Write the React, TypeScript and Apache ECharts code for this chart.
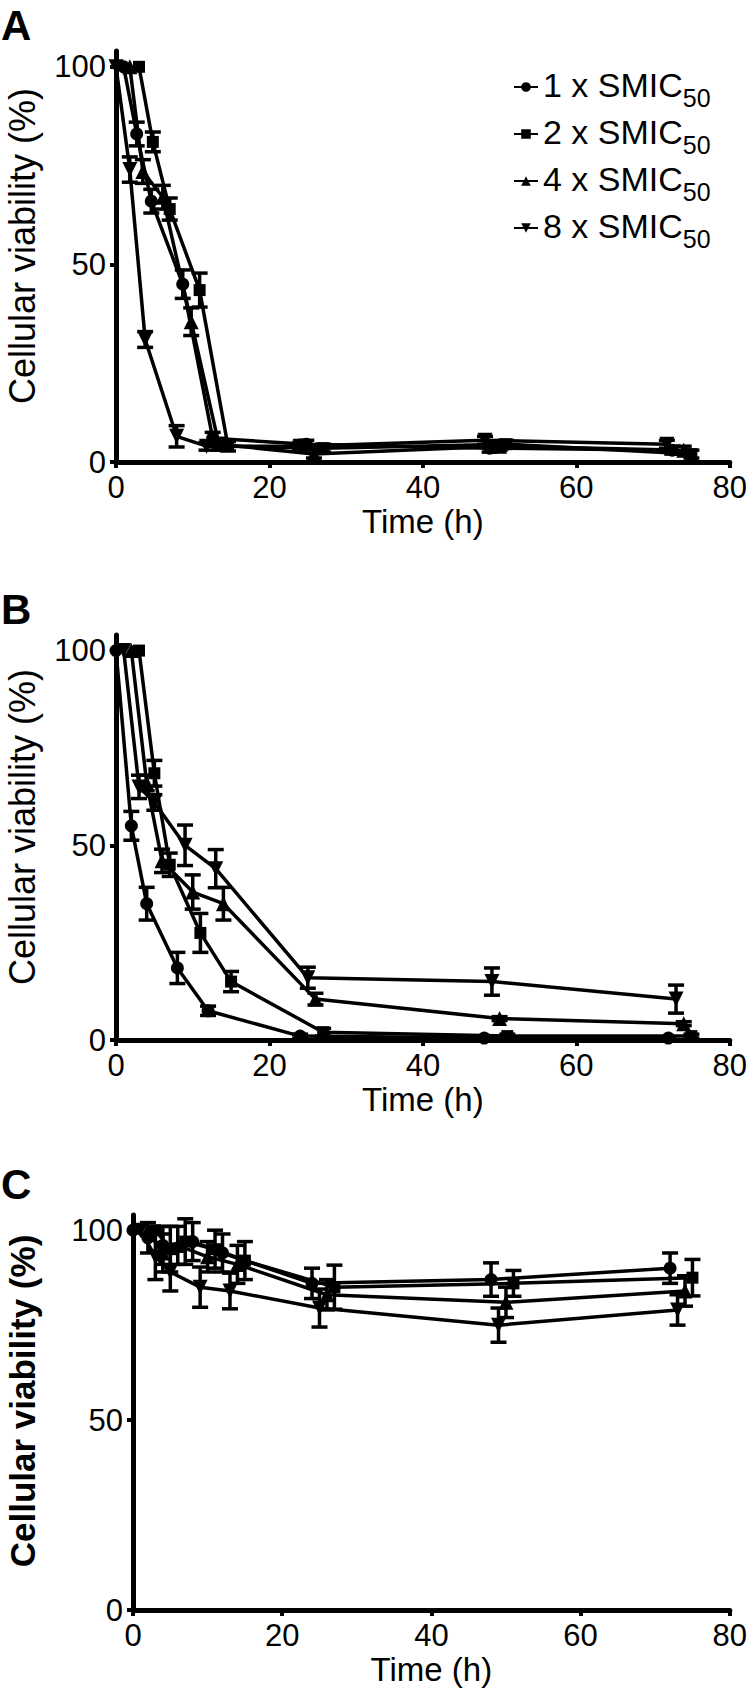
import React, { useEffect, useRef } from "react";
import * as echarts from "echarts";

const FONT = "'Liberation Sans', Arial, Helvetica, sans-serif";

// Series (legend) names and markers
const seriesNames = ["1 x SMIC50", "2 x SMIC50", "4 x SMIC50", "8 x SMIC50"];
const legendMain = ["1 x SMIC", "2 x SMIC", "4 x SMIC", "8 x SMIC"];
const legendSub = "50";
const symbols = ["circle", "rect", "triangle", "path://M0,0L20,0L10,17Z"];
const symbolSizes = [13, 12, 15, 15];

// Axis ticks
const xTicks = [0, 20, 40, 60, 80];
const yTicks = [0, 50, 100];
const xTitle = "Time (h)";
const yTitle = "Cellular viability (%)";
const panelLetters = ["A", "B", "C"];

// ---------- Panel A ----------
const tA1 = [1, 2.7, 4.6, 8.7, 12.6, 24.8, 48.7, 72.5];
const vA1 = [100, 83, 66, 45, 6, 4.5, 3.5, 3];
const eA1 = [0, 3, 3, 3.6, 1.5, 1, 1, 1];
const tA2 = [3, 4.8, 7, 10.9, 14.6, 27, 50.8, 75];
const vA2 = [100, 81, 64, 43.5, 4, 3.5, 4.5, 2];
const eA2 = [0, 2.5, 2.8, 4.3, 1.2, 1, 1, 1];
const tA4 = [1.8, 3.5, 6.1, 9.8, 13.4, 25.8, 50, 74];
const vA4 = [100, 73.5, 67, 35.5, 4.5, 2, 4, 3];
const eA4 = [0, 3, 3, 3.5, 1.5, 1, 1, 1];
const tA8 = [0, 1.8, 3.8, 7.9, 11.8, 24, 48.1, 71.8];
const vA8 = [100, 74, 31, 6.5, 4, 4, 5.5, 4.5];
const eA8 = [0, 3.2, 2, 2.7, 1, 1, 1, 1];

// ---------- Panel B ----------
const tB1 = [0, 2, 4, 8, 12, 24, 48, 72];
const vB1 = [100, 55, 35, 18.5, 7.5, 1, 0.5, 0.5];
const eB1 = [0, 3.7, 4.2, 4, 1.2, 0.5, 0.3, 0.3];
const tB2 = [3, 5, 7, 11, 15, 27, 51, 75];
const vB2 = [100, 68.5, 45, 27.5, 15, 2, 1, 1];
const eB2 = [0, 3.3, 3, 5, 2.6, 1, 0.5, 0.5];
const tB4 = [2, 4, 6, 10, 14, 26, 50, 74];
const vB4 = [100, 66, 46, 38, 35, 10.5, 5.5, 4.2];
const eB4 = [0, 2, 3, 4.4, 4.2, 1.5, 0.5, 0.5];
const tB8 = [1, 3, 5, 9, 13, 25, 49, 73];
const vB8 = [100, 65, 61, 50, 44, 16, 15, 10.5];
const eB8 = [0, 3, 2, 5.2, 4.9, 2.7, 3.5, 3.6];

// ---------- Panel C ----------
const tC1 = [0, 2, 4, 8, 12, 24, 48, 72];
const vC1 = [100, 98, 96, 97, 94, 86, 87, 90];
const eC1 = [0, 4, 5, 5, 5, 4, 4.4, 4];
const tC2 = [3, 5, 7, 11, 15, 27, 51, 75];
const vC2 = [100, 95, 97, 95, 92, 85, 86, 87.5];
const eC2 = [0, 6, 6, 5, 5, 5.8, 3.4, 4.8];
const tC4 = [2, 4, 6, 10, 14, 26, 50, 74];
const vC4 = [100, 94, 96, 93, 91, 83, 81, 84];
const eC4 = [0, 5, 5, 4, 5, 4, 4, 4];
const tC8 = [1, 3, 5, 9, 13, 25, 49, 73];
const vC8 = [100, 93, 89, 85, 84, 79.5, 75, 79];
const eC8 = [0, 6, 5, 5.3, 4.7, 5, 4.5, 4];

const panelTimes = [
  [tA1, tA2, tA4, tA8],
  [tB1, tB2, tB4, tB8],
  [tC1, tC2, tC4, tC8],
];
const panelValues = [
  [vA1, vA2, vA4, vA8],
  [vB1, vB2, vB4, vB8],
  [vC1, vC2, vC4, vC8],
];
const panelErrors = [
  [eA1, eA2, eA4, eA8],
  [eB1, eB2, eB4, eB8],
  [eC1, eC2, eC4, eC8],
];

// Layout (pixels)
const grids = [
  { left: 116, top: 51, width: 617, height: 411 },
  { left: 116, top: 635, width: 615, height: 405 },
  { left: 133, top: 1215, width: 598, height: 395 },
];
const letterTops = [4, 588, 1163];
const yTitleCenters = [
  { x: 22, y: 246 },
  { x: 22, y: 827 },
  { x: 22, y: 1401 },
];
const yTitleBold = [false, false, true];

function buildOption() {
  const grid: any[] = [];
  const xAxis: any[] = [];
  const yAxis: any[] = [];
  const series: any[] = [];
  const graphic: any[] = [];

  grids.forEach((g, p) => {
    grid.push({ ...g, containLabel: false });
    xAxis.push({
      gridIndex: p,
      type: "value",
      min: 0,
      max: 80,
      interval: 20,
      name: xTitle,
      nameLocation: "middle",
      nameGap: 43,
      nameTextStyle: { fontSize: 33, color: "#000", fontFamily: FONT },
      axisLine: { show: true, onZero: false, lineStyle: { color: "#000", width: 5 } },
      axisTick: { show: true, length: 6, lineStyle: { color: "#000", width: 4 }, customValues: xTicks },
      axisLabel: { fontSize: 31, color: "#000", fontFamily: FONT, margin: 10, customValues: xTicks },
      splitLine: { show: false },
    });
    yAxis.push({
      gridIndex: p,
      type: "value",
      min: 0,
      max: 104,
      interval: 50,
      axisLine: { show: true, onZero: false, lineStyle: { color: "#000", width: 5 } },
      axisTick: { show: true, length: 6, lineStyle: { color: "#000", width: 4 }, customValues: yTicks },
      axisLabel: { fontSize: 31, color: "#000", fontFamily: FONT, margin: 10, customValues: yTicks },
      splitLine: { show: false },
    });

    for (let s = 0; s < 4; s++) {
      const ts = panelTimes[p][s];
      const vs = panelValues[p][s];
      const es = panelErrors[p][s];
      series.push({
        type: "line",
        name: seriesNames[s],
        xAxisIndex: p,
        yAxisIndex: p,
        data: ts.map((t, i) => [t, vs[i]]),
        symbol: symbols[s],
        symbolSize: symbolSizes[s],
        showAllSymbol: true,
        lineStyle: { color: "#000", width: 3.5 },
        itemStyle: { color: "#000" },
        clip: false,
        z: 4,
      });
      const errData: any[] = [];
      ts.forEach((t, i) => {
        if (es[i] > 0) errData.push([t, vs[i] - es[i], vs[i] + es[i]]);
      });
      series.push({
        type: "custom",
        name: "err" + p + "_" + s,
        xAxisIndex: p,
        yAxisIndex: p,
        data: errData,
        encode: { x: 0, y: [1, 2] },
        z: 3,
        renderItem: (params: any, api: any) => {
          const x = api.value(0);
          const lo = api.coord([x, api.value(1)]);
          const hi = api.coord([x, api.value(2)]);
          const hw = 8;
          const st = { stroke: "#000", lineWidth: 3.5 };
          return {
            type: "group",
            children: [
              { type: "line", shape: { x1: lo[0], y1: lo[1], x2: hi[0], y2: hi[1] }, style: st },
              { type: "line", shape: { x1: lo[0] - hw, y1: lo[1], x2: lo[0] + hw, y2: lo[1] }, style: st },
              { type: "line", shape: { x1: hi[0] - hw, y1: hi[1], x2: hi[0] + hw, y2: hi[1] }, style: st },
            ],
          };
        },
      });
    }

    graphic.push({
      type: "text",
      left: 1,
      top: letterTops[p],
      style: { text: panelLetters[p], font: `bold 42px ${FONT}`, fill: "#000" },
    });
    graphic.push({
      type: "text",
      x: yTitleCenters[p].x,
      y: yTitleCenters[p].y,
      rotation: Math.PI / 2,
      style: {
        text: yTitle,
        font: yTitleBold[p] ? `bold 35px ${FONT}` : `36px ${FONT}`,
        fill: "#000",
        align: "center",
        verticalAlign: "middle",
      },
    });
  });

  return {
    animation: false,
    backgroundColor: "#fff",
    grid,
    xAxis,
    yAxis,
    series,
    graphic,
    legend: {
      data: seriesNames,
      orient: "vertical",
      left: 508,
      top: 63,
      itemWidth: 24,
      itemHeight: 12,
      itemGap: 5,
      selectedMode: false,
      formatter: (name: string) => {
        const i = seriesNames.indexOf(name);
        return `{m|${legendMain[i]}}{s|${legendSub}}`;
      },
      textStyle: {
        rich: {
          m: { fontSize: 34, lineHeight: 38, fontFamily: FONT, color: "#000", verticalAlign: "top" },
          s: { fontSize: 25, lineHeight: 25, fontFamily: FONT, color: "#000", verticalAlign: "top", padding: [17, 0, 0, 0] },
        },
      },
    },
  };
}

export default function App() {
  const ref = useRef<HTMLDivElement>(null);
  useEffect(() => {
    document.body.style.margin = "0";
    if (!ref.current) return;
    const chart = echarts.init(ref.current, undefined, { renderer: "svg" });
    chart.setOption(buildOption() as any);
    return () => chart.dispose();
  }, []);
  return <div ref={ref} style={{ width: 750, height: 1690, background: "#fff" }} />;
}
